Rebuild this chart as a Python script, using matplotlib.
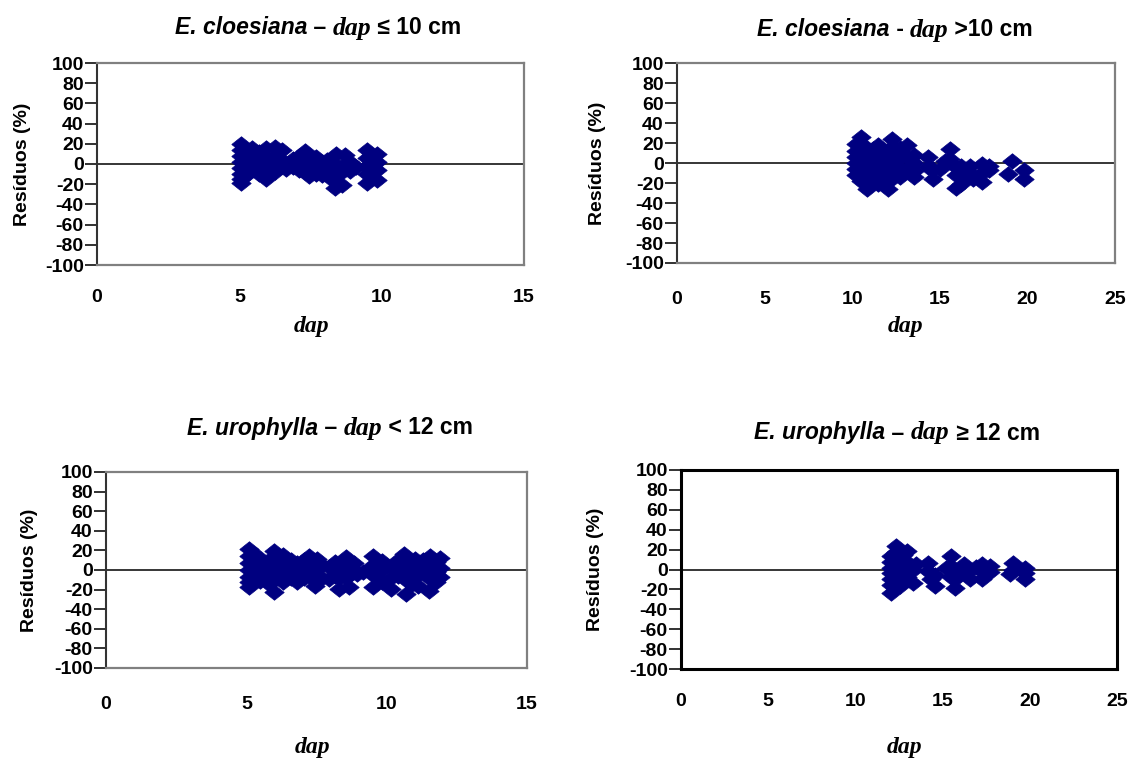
import matplotlib
matplotlib.use("Agg")
import matplotlib.pyplot as plt
from matplotlib.offsetbox import TextArea, HPacker, AnnotationBbox

plt.rcParams['font.family'] = ['Liberation Sans', 'DejaVu Sans']
plt.rcParams['axes.unicode_minus'] = False

# ---------------- data ----------------
title_species = ["E. cloesiana", "E. cloesiana", "E. urophylla", "E. urophylla"]
title_dash = [" – ", " - ", " – ", " – "]
title_var = ["dap", "dap", "dap", "dap"]
title_rest = [" ≤ 10 cm", " >10 cm", " < 12 cm", " ≥ 12 cm"]
x_max = [15, 25, 15, 25]
y_ticks = [-100, -80, -60, -40, -20, 0, 20, 40, 60, 80, 100]
y_label = "Resíduos (%)"
x_label = "dap"

# E. cloesiana, dap <= 10 cm  (dap columns and residuals in each column)
cl_small_dap = [5.05, 5.2, 5.45, 5.7, 5.95, 6.25, 6.5, 6.65, 6.9, 7.1, 7.3, 7.45,
                7.7, 7.9, 8.07, 8.2, 8.35, 8.4, 8.6, 8.7, 8.9, 9.1, 9.5, 9.7, 9.85]
cl_small_res = [[20, 14, 8, 2, -4, -10, -15, -19], [12, 4, -4, -12], [16, 6, -2, -6],
                [12, 2, -4, -10], [16, 6, -4, -15], [17, 8, 0, -8], [14, 4, -2], [-5],
                [5, -3], [8, 0, -6], [13, 3, -8], [0, -12], [7, -2, -10], [2, -4, -11],
                [4, -6], [-4, -14], [0, -12, -24], [10], [-8, -21], [9, 0], [2, -7], [-3],
                [14, 6, -2, -10, -19], [8, 0, -8], [10, 2, -6, -16]]

# E. cloesiana, dap > 10 cm
cl_large_dap = [10.2, 10.5, 10.85, 11.2, 11.5, 11.8, 12.05, 12.3, 12.75, 13.1, 13.5,
                14.3, 14.6, 15.0, 15.3, 15.6, 15.9, 16.2, 16.75, 16.9, 17.4, 17.8,
                18.9, 19.1, 19.8]
cl_large_res = [[19, 12, 6, 0, -6, -12], [26, 18, 10, 0, -10, -18], [15, 5, -5, -15, -26],
                [14, 8, 0, -5, -12], [18, 8, 0, -8, -14, -21], [10, 0, -10],
                [5, -5, -12, -19, -26], [24, 16, 8, 0, -10], [15, 5, -5, -14],
                [18, 6, -6], [8, 0, -8, -14], [6, -4], [-6, -16], [-6], [2], [14, 4],
                [-4, -12, -25], [-3, -12, -21], [-3, -10], [-16], [-1, -10, -19],
                [-3, -7], [-11], [2], [-7, -16]]

# E. urophylla, dap < 12 cm
ur_small_dap = [5.1, 5.35, 5.5, 5.8, 6.0, 6.3, 6.4, 6.6, 6.8, 7.05, 7.25, 7.45, 7.5,
                7.7, 7.95, 8.15, 8.3, 8.55, 8.65, 8.85, 8.95, 9.15, 9.5, 9.7, 9.85,
                10.15, 10.4, 10.6, 10.7, 10.9, 11.0, 11.1, 11.3, 11.5, 11.55, 11.75, 11.9]
ur_small_res = [[21, 14, 7, 0, -7, -12, -17], [15, 5, -5], [10, 2, -5, -11],
                [10, 0, -3, -14], [19, 8, 0, -10, -22], [15, 5, -5, -12], [-8],
                [10, -2, -8], [7, -3, -12], [10, 0, -8], [14, 3, -6], [0, -8, -16], [11],
                [5, -8], [3, -9], [8, -6], [0, -8, -19], [13, 2, -8], [-5, -17], [7, 0],
                [-4], [-2], [14, 5, -5, -17], [8, 0, -8], [9, 0, -12], [3, -8, -19],
                [10, 0, -6], [16, 6], [0, -10, -24], [4, -6, -14], [11], [-5, -16],
                [10, 0], [-8, -21], [14, 4], [8, -2, -12], [12, 2, -7]]

# E. urophylla, dap >= 12 cm
ur_large_dap = [12.05, 12.3, 12.55, 12.75, 12.95, 13.3, 13.5, 14.15, 14.35, 14.55,
                15.2, 15.5, 15.7, 16.0, 16.2, 16.55, 16.9, 17.25, 17.7, 18.85, 19.05, 19.7]
ur_large_res = [[14, 8, 2, -4, -10, -16, -24], [24, 18, 12, 6, 0, -6, -12], [5, -8, -17],
                [15, -5], [19, 8, 0, -8], [0, -14], [6], [7, -2], [-10], [-6, -17], [2],
                [14, 4, -8], [-10, -19], [0], [6, -4], [0, -10], [3], [6, -2, -10],
                [4, -3], [-5], [7, 0], [2, -4, -10]]

panels_dap = [cl_small_dap, cl_large_dap, ur_small_dap, ur_large_dap]
panels_res = [cl_small_res, cl_large_res, ur_small_res, ur_large_res]

# ---------------- layout ----------------
W, H = 1130, 762
fig = plt.figure(figsize=(W / 100, H / 100), dpi=100)

boxes = [(97, 524, 63, 265), (677, 1115, 63, 263), (106, 527, 472, 668), (681, 1117, 470, 669)]
xtick_pad = [17, 20, 20, 17]
ylab_x = [23, 598, 30, 595]
xlab_top = [316, 316, 737, 737]
xlab_cx = [312, 906, 313, 905]
title_pos = [(318, 28), (895, 30), (330, 428), (897, 433)]

navy = '#000080'
diamond = [(-1.0, 0.0), (0.0, 0.8), (1.0, 0.0), (0.0, -0.8), (-1.0, 0.0)]

fam_sans = ['Liberation Sans', 'DejaVu Sans']
sans_bi = dict(fontsize=16.5, fontweight='bold', fontstyle='italic', family=fam_sans)
sans_b = dict(fontsize=16.5, fontweight='bold', family=fam_sans)
serif_bi = dict(fontsize=18.5, fontweight='bold', fontstyle='italic',
                family=['Liberation Serif', 'DejaVu Serif'])

for i in range(4):
    l, r, t, b = boxes[i]
    ax = fig.add_axes([l / W, 1 - b / H, (r - l) / W, (b - t) / H])
    ax.set_xlim(0, x_max[i])
    ax.set_ylim(-100, 100)
    ax.set_xticks(list(range(0, x_max[i] + 1, 5)))
    ax.set_yticks(y_ticks)
    for lab in ax.get_xticklabels() + ax.get_yticklabels():
        lab.set_fontsize(14)
        lab.set_fontweight('bold')
    ax.tick_params(axis='x', length=0, pad=xtick_pad[i])
    ax.tick_params(axis='y', direction='out', length=8.5, width=1.3, pad=1.0, color='#222222')

    frame_col = 'black' if i == 3 else '#808080'
    frame_lw = 2.2 if i == 3 else 1.6
    for s in ['top', 'right', 'bottom']:
        ax.spines[s].set_color(frame_col)
        ax.spines[s].set_linewidth(frame_lw)
    ax.spines['left'].set_color('black' if i == 3 else '#333333')
    ax.spines['left'].set_linewidth(frame_lw if i == 3 else 1.5)

    ax.axhline(0, color='black', lw=1.1, zorder=1)
    if i != 3:
        ax.plot([x_max[i]], [0], marker='|', ms=9, mew=1.1, color='black', zorder=1, clip_on=False)

    xs, ys = [], []
    for xv, col in zip(panels_dap[i], panels_res[i]):
        for yv in col:
            xs.append(xv)
            ys.append(yv)
    ax.plot(xs, ys, linestyle='none', marker=diamond, ms=14, color=navy, mec=navy,
            mew=0.5, zorder=3)

    ax.set_ylabel(y_label, fontsize=14, fontweight='bold')
    ax.yaxis.label.set_va('center')
    ax.yaxis.set_label_coords((ylab_x[i] - l) / (r - l), 0.5)

    fig.text(xlab_cx[i] / W, 1 - xlab_top[i] / H, x_label, ha='center', va='top',
             fontsize=17, fontfamily='Liberation Serif', fontstyle='italic', fontweight='bold')

    pack = HPacker(children=[TextArea(title_species[i], textprops=sans_bi),
                             TextArea(title_dash[i], textprops=sans_b),
                             TextArea(title_var[i], textprops=serif_bi),
                             TextArea(title_rest[i], textprops=sans_b)],
                   align='baseline', pad=0, sep=0)
    tx, ty = title_pos[i]
    fig.add_artist(AnnotationBbox(pack, (tx / W, 1 - ty / H), xycoords='figure fraction',
                                  frameon=False, box_alignment=(0.5, 0.5), pad=0))

fig.savefig('out.png', dpi=100)
